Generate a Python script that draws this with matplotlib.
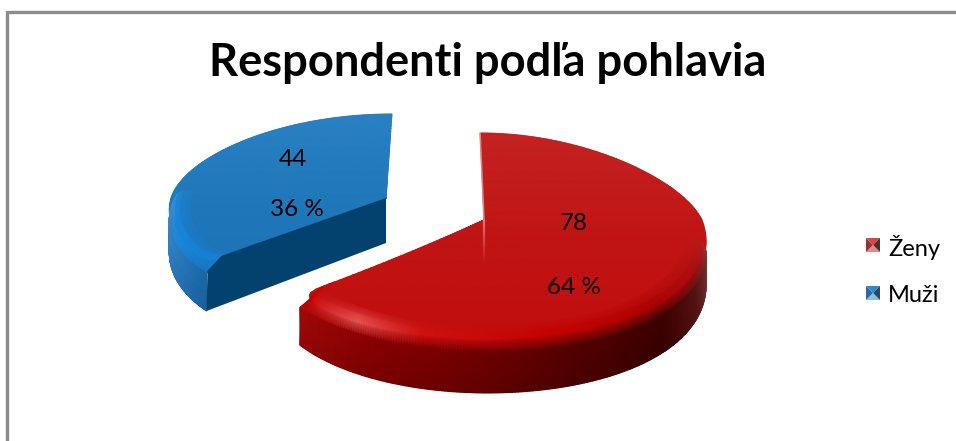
import numpy as np
import matplotlib
matplotlib.use('Agg')
import matplotlib.pyplot as plt

categories = ['Ženy', 'Muži']
values = [78, 44]
percents = ['64 %', '36 %']
title = 'Respondenti podľa pohlavia'

plt.rcParams['font.family'] = ['Lato', 'DejaVu Sans']

fig = plt.figure(figsize=(9.56, 4.41), dpi=100)
ax = fig.add_axes([0, 0, 1, 1])
ax.set_xlim(0, 956)
ax.set_ylim(441, 0)
ax.axis('off')

total = sum(values)
red_end = 360 * values[0] / total


def rgb(c):
    return np.array(matplotlib.colors.to_rgb(c))


def ramp(t, stops, cols):
    cols = np.array([rgb(c) for c in cols])
    return np.stack([np.interp(t, stops, cols[:, i]) for i in range(3)], axis=-1)


def project(theta, r, cx, cy, a, b_up, b_down, q, skew):
    # tilted disc, the near half is drawn bigger, theta is clockwise from the top
    th = np.radians(theta)
    dx = r * np.sin(th)
    dy = r * np.cos(th)
    x = cx + a * dx * (1 - q * dy) + skew * dy
    y = cy - np.where(dy > 0, b_up, b_down) * dy
    return x, y


def corner(theta):
    # pulls the top face in next to the cut so the tip looks rounded
    u = np.clip(1 - np.abs(theta - red_end) / 7, 0, 1)
    return 1 - 0.08 * (1 - np.sqrt(1 - u ** 2))


def draw_slice(start, stop, wall_start, wall_stop, geo, top_stops, top_cols,
               side_stops, side_cols, rim_stops, rim_cols, depth):
    # top face
    thetas = np.linspace(start, stop, 300)
    rr = np.linspace(0, 1, 30)
    T, R = np.meshgrid(thetas, rr)
    fx, fy = project(T, R * corner(T), *geo)
    ax.pcolormesh(fx, fy, ramp(fy, top_stops, top_cols), shading='gouraud', zorder=2)

    # rim and outer wall, only on the near part of the slice
    thetas = np.linspace(wall_start, wall_stop, 200)
    grow = 1 - 0.4 * np.cos(np.radians(thetas))
    cut = corner(thetas)
    rows = [(0.90 * cut, 0 * grow), (0.955 * cut, 0 * grow), (0.985 * cut, 3 * grow),
            (1.0 + 0 * cut, 10 * grow), (1.0 + 0 * cut, depth * grow)]
    X = []
    Y = []
    for r, h in rows:
        x, y = project(thetas, r, *geo)
        X.append(x)
        Y.append(y + h)
    X = np.array(X)
    Y = np.array(Y)
    side = ramp(thetas, side_stops, side_cols)
    rim = ramp(thetas, rim_stops, rim_cols)
    face = ramp(Y[0], top_stops, top_cols)
    C = np.stack([face, rim * 0.6 + face * 0.4, rim, side, side * 0.85])
    ax.pcolormesh(X, Y, C, shading='gouraud', zorder=3)


# red slice
red_geo = (484, 220, 218, 87, 117, 0.18, -4)
draw_slice(0, red_end, 100, red_end, red_geo,
           [130, 240, 350], ['#c42222', '#c01414', '#c20c0c'],
           [100, 118, 135, 160, 185, 205, red_end],
           ['#8a4040', '#5a1414', '#3e0000', '#560000', '#760000', '#8a0000', '#a80808'],
           [100, 112, 135, 165, 195, 212, red_end],
           ['#bc1c1c', '#a81010', '#a80000', '#c40000', '#d01010', '#e85858', '#c80000'],
           40)

# light streaks on the red slice
x_a, y_a = project(np.array([0.0]), np.array([0.0]), *red_geo)
x_t, y_t = project(np.array([0.0]), np.array([1.0]), *red_geo)
ax.plot([x_a[0], x_t[0]], [y_a[0], y_t[0]], color='#f0b0b0', lw=1.2, alpha=0.7, zorder=4)
for i in range(14):
    ax.plot([x_a[0], x_a[0]], [y_a[0] + i * 3, y_a[0] + (i + 1) * 3], color='#e89090',
            lw=1.6, alpha=0.75 * (1 - i / 14), zorder=4, solid_capstyle='butt')

# blue slice
blue_geo = (386, 198, 215, 84, 98, 0.1, 6)
draw_slice(red_end, 360, red_end, 275, blue_geo,
           [110, 200, 290], ['#2a80c2', '#1f78ba', '#1c70b4'],
           [red_end, 245, 262, 275],
           ['#1a6cae', '#2a80c8', '#3a90d8', '#3a94dc'],
           [red_end, 245, 265, 275],
           ['#1484d8', '#1488e0', '#1a8ce4', '#2088d4'],
           40)

# blue cut wall
xa, ya = project(np.array([red_end]), np.array([0.0]), *blue_geo)
xt, yt = project(np.array([red_end]), np.array([1.0]), *blue_geo)
xc, yc = project(np.array([red_end]), np.array([0.92]), *blue_geo)
wall_h = 40 * (1 - 0.4 * np.cos(np.radians(red_end)))
ax.fill([xa[0], xc[0], xt[0] + 1, xt[0], xa[0]],
        [ya[0], yc[0], yt[0] + 10, yt[0] + wall_h, ya[0] + 45],
        color='#03426f', lw=0, zorder=5)

# frame, only the left and the top side are in the picture
ax.plot([7.5, 7.5, 956], [441, 11.5, 11.5], color='#8c8c8c', lw=2.4, zorder=1, solid_joinstyle='miter')

ax.text(488, 63, title, ha='center', va='center', fontsize=32.6, fontweight='bold', color='black', zorder=6)

ax.text(574, 223, str(values[0]), ha='center', va='center', fontsize=17.5, zorder=6)
ax.text(574, 287, percents[0], ha='center', va='center', fontsize=17.5, zorder=6)
ax.text(293, 160, str(values[1]), ha='center', va='center', fontsize=17.5, zorder=6)
ax.text(297, 209, percents[1], ha='center', va='center', fontsize=17.5, zorder=6)

# legend with the small pyramid swatches
swatches = [('#e08a8a', '#9a3030', '#d04848', '#5a2a2a'), ('#8ac0e8', '#2a6a98', '#2c88d0', '#2a4a60')]
legend_y = [247, 295]
for name, cols, ly in zip(categories, swatches, legend_y):
    x0, x1, y0, y1 = 866, 880, ly - 9, ly + 5
    xm, ym = (x0 + x1) / 2, (y0 + y1) / 2
    ax.fill([x0, x1, xm], [y1, y1, ym], color=cols[0], lw=0, zorder=6)
    ax.fill([x0, xm, x0], [y0, ym, y1], color=cols[1], lw=0, zorder=6)
    ax.fill([x0, x1, xm], [y0, y0, ym], color=cols[2], lw=0, zorder=6)
    ax.fill([x1, xm, x1], [y0, ym, y1], color=cols[3], lw=0, zorder=6)
    ax.text(888, ly, name, ha='left', va='center', fontsize=17, zorder=6)

fig.savefig('out.png', dpi=100)
